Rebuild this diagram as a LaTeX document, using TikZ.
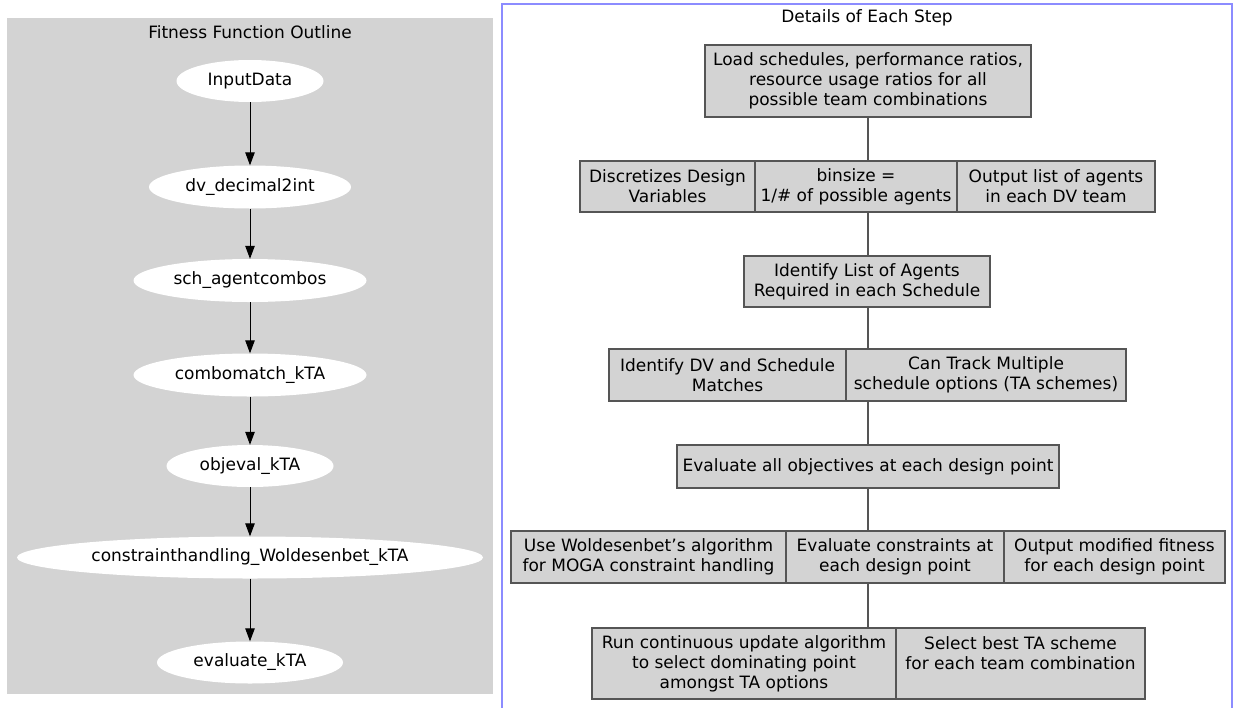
\documentclass[tikz,border=0pt]{standalone}
\usepackage{fontspec}
\setmainfont{DejaVu Sans}
\usetikzlibrary{shapes.geometric,arrows.meta}
\definecolor{panelgray}{RGB}{211,211,211}
\definecolor{boxfill}{RGB}{211,211,211}
\definecolor{boxline}{RGB}{85,85,85}
\definecolor{frameblue}{RGB}{140,140,255}
\newcommand\lab{\fontsize{17}{20}\selectfont}
\tikzset{
  ell/.style={ellipse, fill=white, inner sep=0pt, font=\lab},
  cell/.style={rectangle, draw=boxline, fill=boxfill, line width=1.2pt, inner sep=0pt, align=center, font=\lab},
  conn/.style={draw=boxline, line width=1.2pt},
  arr/.style={-{Triangle[length=13pt,width=9.5pt]}, line width=1pt, black},
  ttl/.style={font=\lab, inner sep=0pt}
}
\begin{document}
\begin{tikzpicture}[x=1pt,y=-1pt]
\useasboundingbox (0,0) rectangle (1238,707);
% left panel
\fill[panelgray] (7,18) rectangle (493,694);
\node[ttl] (t1) at (250,32) {Fitness Function Outline};
\node[ell, minimum width=147pt, minimum height=42pt] (e1) at (250,81) {InputData};
\node[ell, minimum width=202pt, minimum height=43pt] (e2) at (250,187) {dv\_decimal2int};
\node[ell, minimum width=233pt, minimum height=43pt] (e3) at (250,280.5) {sch\_agentcombos};
\node[ell, minimum width=233pt, minimum height=43pt] (e4) at (250,375) {combomatch\_kTA};
\node[ell, minimum width=167pt, minimum height=42pt] (e5) at (250,466) {objeval\_kTA};
\node[ell, minimum width=466pt, minimum height=42pt] (e6) at (250,557.5) {constrainthandling\_Woldesenbet\_kTA};
\node[ell, minimum width=186pt, minimum height=42pt] (e7) at (250,662.5) {evaluate\_kTA};
\draw[arr] (e1) -- (e2);
\draw[arr] (e2) -- (e3);
\draw[arr] (e3) -- (e4);
\draw[arr] (e4) -- (e5);
\draw[arr] (e5) -- (e6);
\draw[arr] (e6) -- (e7);
% right panel
\draw[frameblue, line width=1.5pt] (502,720) -- (502,4) -- (1232,4) -- (1232,720);
\node[ttl] (t2) at (867,18) {Details of Each Step};
\node[cell, minimum width=326pt, minimum height=72pt] (b1) at (868,81) {Load schedules, performance ratios,\\resource usage ratios for all\\possible team combinations};
\node[cell, minimum width=175pt, minimum height=51pt] (b2a) at (667.5,186.5) {Discretizes Design\\Variables};
\node[cell, minimum width=202pt, minimum height=51pt] (b2b) at (856,186.5) {binsize =\\1/\# of possible agents};
\node[cell, minimum width=198pt, minimum height=51pt] (b2c) at (1056,186.5) {Output list of agents\\in each DV team};
\node[cell, minimum width=246pt, minimum height=51pt] (b3) at (867,281.5) {Identify List of Agents\\Required in each Schedule};
\node[cell, minimum width=237pt, minimum height=52pt] (b4a) at (727.5,375) {Identify DV and Schedule\\Matches};
\node[cell, minimum width=280pt, minimum height=52pt] (b4b) at (986,375) {Can Track Multiple\\schedule options (TA schemes)};
\node[cell, minimum width=382pt, minimum height=43pt] (b5) at (868,466.5) {Evaluate all objectives at each design point};
\node[cell, minimum width=275pt, minimum height=52pt] (b6a) at (648.5,557) {Use Woldesenbet's algorithm\\for MOGA constraint handling};
\node[cell, minimum width=218pt, minimum height=52pt] (b6b) at (895,557) {Evaluate constraints at\\each design point};
\node[cell, minimum width=221pt, minimum height=52pt] (b6c) at (1114.5,557) {Output modified fitness\\for each design point};
\node[cell, minimum width=304pt, minimum height=71pt] (b7a) at (744,663.5) {Run continuous update algorithm\\to select dominating point\\amongst TA options};
\node[cell, minimum width=249pt, minimum height=71pt] (b7b) at (1020.5,663.5) {Select best TA scheme\\for each team combination\\\mbox{}};
\draw[conn] (b1.south) -- (b1.south |- b2b.north);
\draw[conn] (b1.south |- b2b.south) -- (b1.south |- b3.north);
\draw[conn] (b1.south |- b3.south) -- (b1.south |- b4a.north);
\draw[conn] (b5.north) -- (b5.north |- b4a.south);
\draw[conn] (b5.south) -- (b5.south |- b6b.north);
\draw[conn] (b5.south |- b6b.south) -- (b5.south |- b7a.north);
\end{tikzpicture}
\end{document}
